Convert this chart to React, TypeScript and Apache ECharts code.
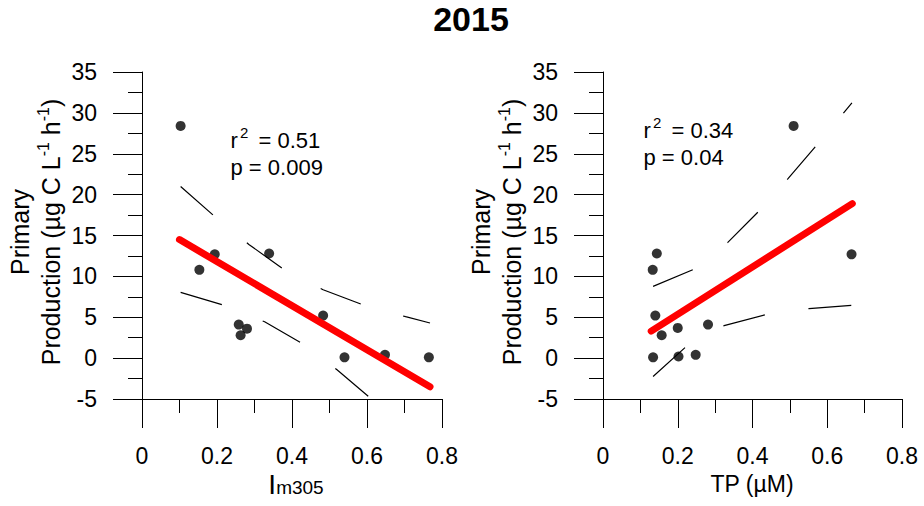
import { useEffect, useRef } from "react";
import * as echarts from "echarts";

const FONT = "'Liberation Sans', Arial, Helvetica, sans-serif";

// Primary production (µg C L-1 h-1) against the photo-index Im305
const imX = [0.103, 0.194, 0.153, 0.339, 0.258, 0.28, 0.263, 0.483, 0.54, 0.648, 0.765];
const ppIm = [28.4, 12.7, 10.8, 12.8, 4.1, 3.6, 2.8, 5.2, 0.1, 0.4, 0.1];

// Primary production against total phosphorus (µM)
const tpX = [0.51, 0.665, 0.144, 0.133, 0.14, 0.281, 0.2, 0.157, 0.134, 0.202, 0.248];
const ppTp = [28.4, 12.7, 12.8, 10.8, 5.2, 4.1, 3.7, 2.8, 0.1, 0.2, 0.4];

// Fitted regression lines (end points)
const imFit = [
  [0.1, 14.5],
  [0.768, -3.5],
];
const tpFit = [
  [0.129, 3.3],
  [0.667, 18.9],
];

// 95% confidence bands
const imUpper = [
  [0.103, 21.0],
  [0.192, 17.4],
  [0.285, 13.9],
  [0.377, 10.9],
  [0.483, 8.37],
  [0.588, 6.54],
  [0.703, 5.07],
  [0.768, 4.3],
];
const imLower = [
  [0.103, 8.04],
  [0.216, 6.5],
  [0.327, 4.45],
  [0.425, 1.85],
  [0.52, -1.42],
  [0.612, -5.0],
];
const tpUpper = [
  [0.134, 8.78],
  [0.241, 10.82],
  [0.334, 14.16],
  [0.415, 17.88],
  [0.495, 21.96],
  [0.569, 25.9],
  [0.645, 30.07],
  [0.666, 31.22],
];
const tpLower = [
  [0.134, -2.24],
  [0.22, 1.31],
  [0.324, 3.97],
  [0.434, 5.31],
  [0.551, 6.05],
  [0.666, 6.45],
];

const stats = [
  { r2: "0.51", p: "0.009" },
  { r2: "0.34", p: "0.04" },
];

const axisCommon = {
  type: "value" as const,
  axisLine: { show: true, onZero: false, lineStyle: { color: "#000", width: 1 } },
  axisTick: { show: true, inside: false, length: 29, lineStyle: { color: "#000", width: 1 } },
  minorTick: { show: true, splitNumber: 2, length: 14, lineStyle: { color: "#000", width: 1 } },
  splitLine: { show: false },
  minorSplitLine: { show: false },
  axisLabel: { color: "#000", fontSize: 23, fontFamily: FONT, margin: 45 },
};

const xAxisFor = (gridIndex: number) => ({
  ...axisCommon,
  gridIndex,
  min: 0,
  max: 0.8,
  interval: 0.2,
});

const yAxisFor = (gridIndex: number) => ({
  ...axisCommon,
  gridIndex,
  min: -5,
  max: 35,
  interval: 5,
});

const pts = (xs: number[], ys: number[]) => xs.map((x, i) => [x, ys[i]]);

const scatterSeries = (idx: number, data: number[][]) => ({
  type: "scatter",
  xAxisIndex: idx,
  yAxisIndex: idx,
  data,
  symbol: "circle",
  symbolSize: 10,
  itemStyle: { color: "#000" },
  z: 2,
});

const bandSeries = (idx: number, data: number[][]) => ({
  type: "line",
  xAxisIndex: idx,
  yAxisIndex: idx,
  data,
  symbol: "none",
  showSymbol: false,
  clip: true,
  lineStyle: { color: "#000", width: 1.2, type: [43, 44], dashOffset: 0 },
  z: 3,
});

const fitSeries = (idx: number, data: number[][]) => ({
  type: "line",
  xAxisIndex: idx,
  yAxisIndex: idx,
  data,
  symbol: "none",
  showSymbol: false,
  lineStyle: { color: "#ff0000", width: 7, cap: "round" },
  z: 4,
});

const yTitle = (cx: number) => ({
  type: "text",
  x: cx,
  y: 232,
  rotation: Math.PI / 2,
  style: {
    text: "Primary\nProduction (µg C L{s|-1} h{s|-1})",
    align: "center",
    verticalAlign: "middle",
    fill: "#000",
    fontSize: 25,
    fontFamily: FONT,
    lineHeight: 31,
    rich: {
      s: { fontSize: 16, fontFamily: FONT, lineHeight: 14, verticalAlign: "top", fill: "#000" },
    },
  },
});

const plainText = (x: number, y: number, text: string, fontSize: number) => ({
  type: "text",
  x,
  y,
  style: {
    text,
    align: "left",
    verticalAlign: "middle",
    fill: "#000",
    fontSize,
    fontFamily: FONT,
  },
});

// r² and p annotation: "r", raised "2", "= value", then the p line below
const statText = (x: number, y: number, s: { r2: string; p: string }) => [
  plainText(x, y, "r", 22),
  plainText(x + 9.5, y - 8, "2", 15),
  plainText(x + 28, y, `= ${s.r2}`, 22),
  plainText(x, y + 27, `p = ${s.p}`, 22),
];

export default function App() {
  const ref = useRef<HTMLDivElement>(null);

  useEffect(() => {
    if (!ref.current) return;
    const chart = echarts.init(ref.current, null, { renderer: "svg" });
    chart.setOption({
      animation: false,
      backgroundColor: "#fff",
      grid: [
        { left: 142, top: 72, width: 300, height: 327, containLabel: false },
        { left: 603, top: 72, width: 299, height: 327, containLabel: false },
      ],
      xAxis: [xAxisFor(0), xAxisFor(1)],
      yAxis: [yAxisFor(0), yAxisFor(1)],
      series: [
        scatterSeries(0, pts(imX, ppIm)),
        bandSeries(0, imUpper),
        bandSeries(0, imLower),
        fitSeries(0, imFit),
        scatterSeries(1, pts(tpX, ppTp)),
        bandSeries(1, tpUpper),
        bandSeries(1, tpLower),
        fitSeries(1, tpFit),
      ],
      graphic: [
        {
          type: "text",
          x: 471,
          y: 19,
          style: {
            text: "2015",
            align: "center",
            verticalAlign: "middle",
            fill: "#000",
            fontSize: 34,
            fontWeight: "bold",
            fontFamily: FONT,
          },
        },
        yTitle(35),
        yTitle(496),
        {
          type: "text",
          x: 296,
          y: 484,
          style: {
            text: "I{m|m305}",
            align: "center",
            verticalAlign: "middle",
            fill: "#000",
            fontSize: 28,
            fontFamily: FONT,
            lineHeight: 26,
            rich: {
              m: { fontSize: 19, fontFamily: FONT, lineHeight: 10, verticalAlign: "bottom", fill: "#000" },
            },
          },
        },
        {
          type: "text",
          x: 752,
          y: 484,
          style: {
            text: "TP (µM)",
            align: "center",
            verticalAlign: "middle",
            fill: "#000",
            fontSize: 23,
            fontFamily: FONT,
          },
        },
        ...statText(230.5, 140, stats[0]),
        ...statText(643.5, 130, stats[1]),
      ],
    });
    return () => chart.dispose();
  }, []);

  return (
    <div
      ref={ref}
      style={{ position: "absolute", left: 0, top: 0, width: 924, height: 506, background: "#fff" }}
    />
  );
}
